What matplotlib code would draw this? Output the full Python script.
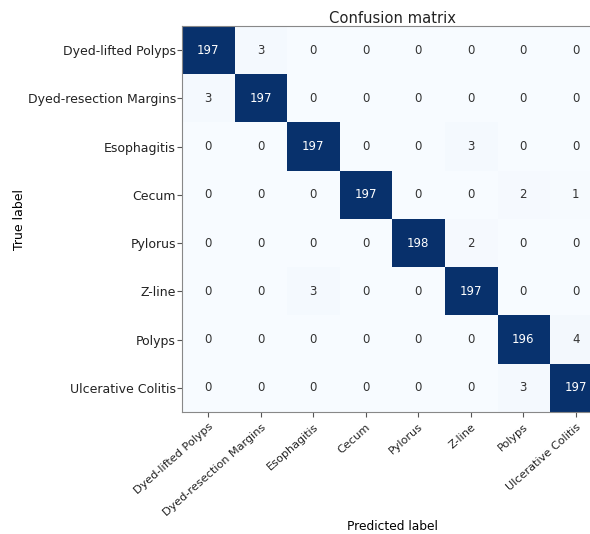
import numpy as np
import matplotlib
matplotlib.use("Agg")
import matplotlib.pyplot as plt

plt.rcParams["font.family"] = ["DejaVu Sans"]

classes = ["Dyed-lifted Polyps", "Dyed-resection Margins", "Esophagitis", "Cecum",
           "Pylorus", "Z-line", "Polyps", "Ulcerative Colitis"]

row_dyed_lifted = [197, 3, 0, 0, 0, 0, 0, 0]
row_dyed_resection = [3, 197, 0, 0, 0, 0, 0, 0]
row_esophagitis = [0, 0, 197, 0, 0, 3, 0, 0]
row_cecum = [0, 0, 0, 197, 0, 0, 2, 1]
row_pylorus = [0, 0, 0, 0, 198, 2, 0, 0]
row_zline = [0, 0, 3, 0, 0, 197, 0, 0]
row_polyps = [0, 0, 0, 0, 0, 0, 196, 4]
row_ulcerative = [0, 0, 0, 0, 0, 0, 3, 197]

cm = np.array([row_dyed_lifted, row_dyed_resection, row_esophagitis, row_cecum,
               row_pylorus, row_zline, row_polyps, row_ulcerative])

fig = plt.figure(figsize=(5.9, 5.34), dpi=100)
ax = fig.add_axes([182 / 590, (534 - 412) / 534, 420 / 590, 386 / 534])
ax.imshow(cm, interpolation="nearest", cmap=plt.cm.Blues, aspect="auto")
ax.set_title("Confusion matrix", fontsize=10.6, color="#222222", pad=2.5)

ticks = np.arange(len(classes))
ax.set_xticks(ticks)
ax.set_xticklabels(classes, rotation=41.5, ha="right", rotation_mode="anchor", fontsize=8.1)
ax.set_yticks(ticks)
ax.set_yticklabels(classes, fontsize=9)

thresh = cm.max() / 2.0
for i in range(cm.shape[0]):
    for j in range(cm.shape[1]):
        ax.text(j, i, format(cm[i, j], "d"), ha="center", va="center", fontsize=8.5,
                color="white" if cm[i, j] > thresh else "#333333")

ax.set_ylabel("True label", fontsize=9, labelpad=1)
ax.set_xlabel("Predicted label", fontsize=8.8)
# 182 px left, 412 px bottom of the axes; x label sits just below the rotated ticks
ax.xaxis.set_label_coords((392 - 182) / 420, -(520 - 412) / 386)
for s in ax.spines.values():
    s.set_color("#888888")
ax.tick_params(colors="#555555", labelcolor="#222222")
ax.tick_params(axis="y", pad=1)

fig.savefig("out.png", dpi=100)
